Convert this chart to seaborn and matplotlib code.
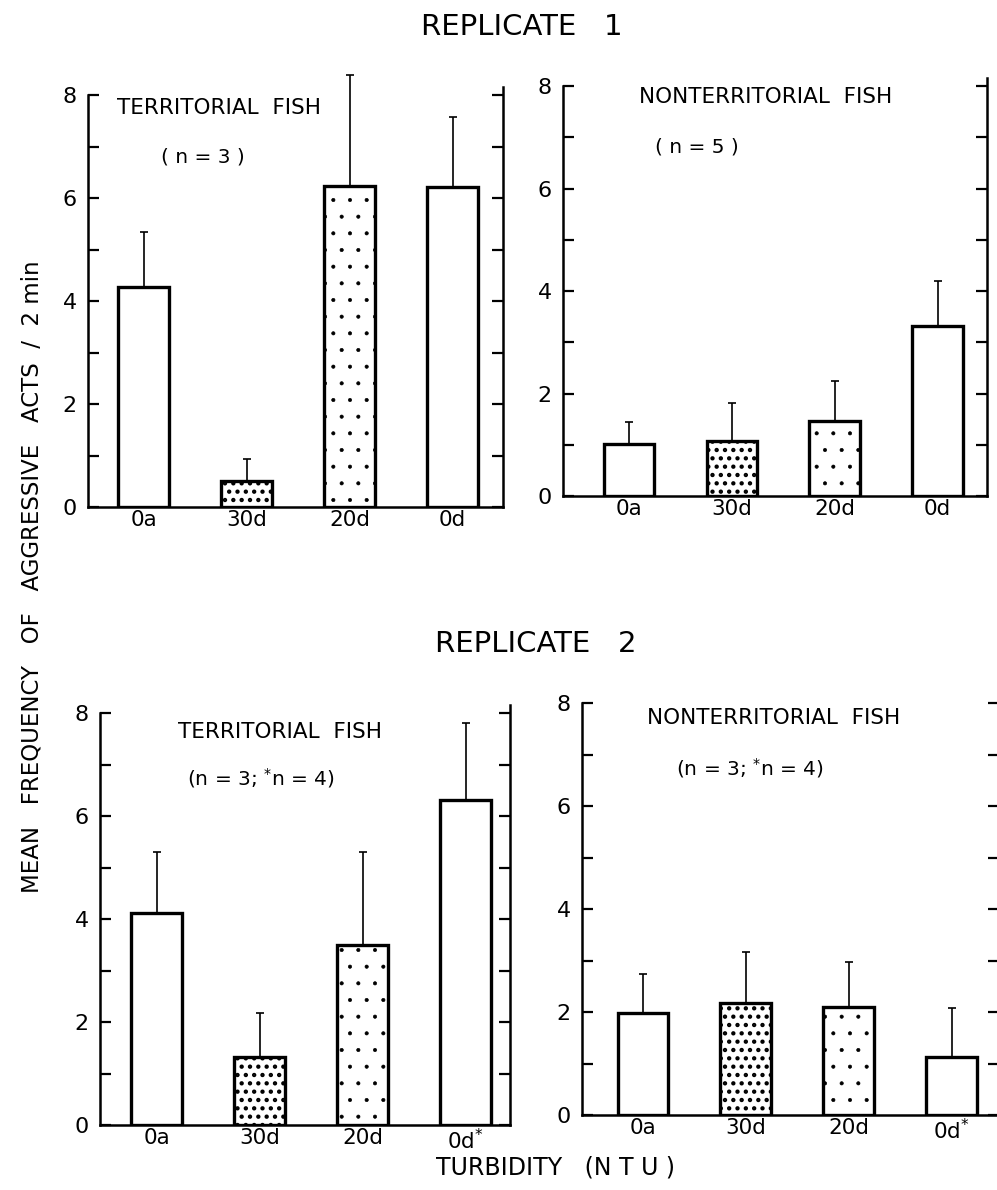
import matplotlib
matplotlib.use("Agg")
import matplotlib.pyplot as plt
import seaborn as sns
import pandas as pd
import numpy as np

# ---------------- data ----------------
categories = ["0a", "30d", "20d", "0d"]
categories_star = ["0a", "30d", "20d", "0d$^{*}$"]

r1_terr_mean = [4.27, 0.50, 6.23, 6.21]
r1_terr_se = [1.07, 0.43, 2.16, 1.36]
r1_nonterr_mean = [1.01, 1.07, 1.46, 3.32]
r1_nonterr_se = [0.43, 0.74, 0.78, 0.88]
r2_terr_mean = [4.12, 1.32, 3.50, 6.31]
r2_terr_se = [1.18, 0.85, 1.80, 1.49]
r2_nonterr_mean = [1.98, 2.17, 2.10, 1.13]
r2_nonterr_se = [0.76, 1.00, 0.87, 0.95]

y_major = [0, 2, 4, 6, 8]
y_minor = [1, 3, 5, 7]

# ---------------- style ----------------
sns.set_theme(style="white")
plt.rcParams["font.family"] = ["DejaVu Sans"]
plt.rcParams["hatch.color"] = "black"
plt.rcParams["text.color"] = "black"
plt.rcParams["axes.labelcolor"] = "black"
plt.rcParams["xtick.color"] = "black"
plt.rcParams["ytick.color"] = "black"

W, H = 997, 1190
fig = plt.figure(figsize=(W / 100, H / 100), dpi=100)
fig.patch.set_facecolor("white")

bar_hatches = ["", "..", ".", ""]
hatch_lw = [1.0, 1.9, 0.45, 1.0]
YTOP = 8.15


def fx(px):
    return px / W


def fy(py):
    return 1 - py / H


def panel(left, right, y0, y8, xlim, labels, mean, se):
    ppu = (y0 - y8) / 8.0
    height = YTOP * ppu
    ax = fig.add_axes([fx(left), fy(y0), (right - left) / W, height / H])
    df = pd.DataFrame({"turbidity": labels, "mean": mean})
    sns.barplot(data=df, x="turbidity", y="mean", order=labels, ax=ax,
                color="white", saturation=1, edgecolor="black",
                linewidth=2.4, width=0.49, errorbar=None)
    xs, tops = [], []
    for p, h, hl in zip(ax.patches, bar_hatches, hatch_lw):
        p.set_hatch(h)
        if hasattr(p, "set_hatch_linewidth"):
            p.set_hatch_linewidth(hl)
        p.set_facecolor("white")
        xs.append(p.get_x() + p.get_width() / 2)
        tops.append(p.get_height())
    ax.errorbar(xs, tops, yerr=[np.zeros(len(se)), se], fmt="none",
                ecolor="black", elinewidth=1.2, capsize=3, capthick=1.2,
                clip_on=False, zorder=3)
    ax.set_xlim(*xlim)
    ax.set_ylim(0, YTOP)
    ax.set_yticks(y_major)
    ax.set_yticks(y_minor, minor=True)
    ax.set_yticklabels([str(v) for v in y_major], fontsize=16)
    ax.tick_params(axis="y", which="both", direction="in", length=8,
                   width=1.6, left=True, right=True, labelright=False,
                   pad=8, colors="black")
    ax.tick_params(axis="x", length=0, pad=2, labelsize=15.5, colors="black")
    ax.set_xlabel("")
    ax.set_ylabel("")
    for s in ["left", "bottom", "right"]:
        ax.spines[s].set_visible(True)
        ax.spines[s].set_color("black")
        ax.spines[s].set_linewidth(1.8)
    ax.spines["top"].set_visible(False)
    ax.spines["left"].set_bounds(0, 8)
    ax.set_facecolor("white")
    return ax


ax1 = panel(88, 503, 507, 95, (-0.54, 3.49), categories, r1_terr_mean, r1_terr_se)
ax2 = panel(563, 987, 496, 86, (-0.64, 3.48), categories, r1_nonterr_mean, r1_nonterr_se)
ax3 = panel(100, 510, 1125, 713, (-0.55, 3.43), categories_star, r2_terr_mean, r2_terr_se)
ax4 = panel(582, 999, 1115, 703, (-0.59, 3.46), categories_star, r2_nonterr_mean, r2_nonterr_se)

# ---------------- text ----------------
fig.text(fx(522), fy(27), "REPLICATE   1", ha="center", va="center", fontsize=21)
fig.text(fx(536), fy(644), "REPLICATE   2", ha="center", va="center", fontsize=21)

fig.text(fx(219), fy(108), "TERRITORIAL  FISH", ha="center", va="center", fontsize=15.5)
fig.text(fx(203), fy(157), "( n = 3 )", ha="center", va="center", fontsize=14.5)
fig.text(fx(766), fy(97), "NONTERRITORIAL  FISH", ha="center", va="center", fontsize=15.5)
fig.text(fx(697), fy(147), "( n = 5 )", ha="center", va="center", fontsize=14.5)

fig.text(fx(280), fy(732), "TERRITORIAL  FISH", ha="center", va="center", fontsize=15.5)
fig.text(fx(261), fy(778), "(n = 3; $^{*}$n = 4)", ha="center", va="center", fontsize=14.5)
fig.text(fx(774), fy(718), "NONTERRITORIAL  FISH", ha="center", va="center", fontsize=15.5)
fig.text(fx(750), fy(768), "(n = 3; $^{*}$n = 4)", ha="center", va="center", fontsize=14.5)

fig.text(fx(32), fy(577), "MEAN   FREQUENCY   OF   AGGRESSIVE   ACTS  /  2 min",
         ha="center", va="center", rotation=90, fontsize=16.5)
fig.text(fx(556), fy(1167), "TURBIDITY   (N T U )", ha="center", va="center", fontsize=17)

fig.savefig("out.png", dpi=100, facecolor="white")
